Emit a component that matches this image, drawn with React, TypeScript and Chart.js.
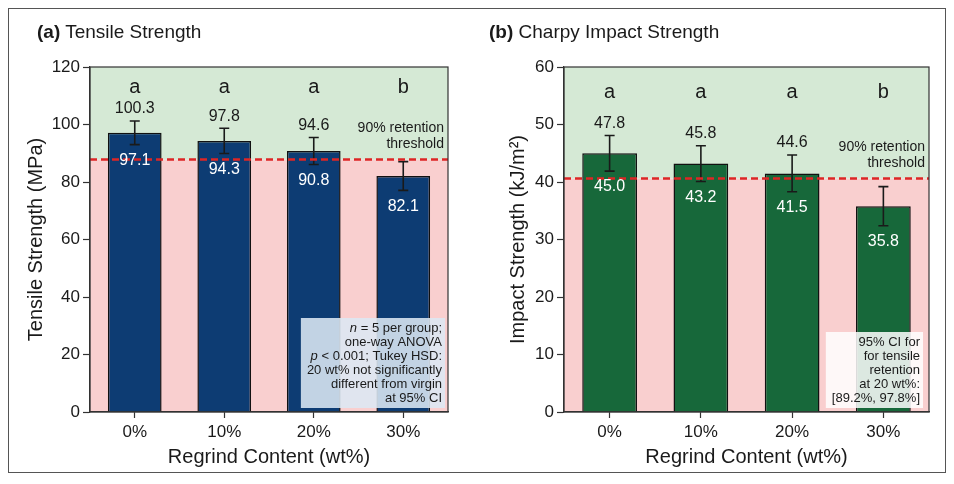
import { useEffect, useRef } from 'react'
import { Chart, registerables } from 'chart.js'

Chart.register(...registerables)

const FONT = "'Liberation Sans', Arial, Helvetica, sans-serif"
const INK = '#1a1a1a'

const CATEGORIES = ['0%', '10%', '20%', '30%']

// (a) tensile
const TENSILE_MEAN = [97.1, 94.3, 90.8, 82.1]
const TENSILE_ERR = [4.1, 4.4, 4.7, 5.0]
const TENSILE_UPPER = ['100.3', '97.8', '94.6', '']
const TENSILE_GROUPS = ['a', 'a', 'a', 'b']
const TENSILE_THRESHOLD = 87.8
const TENSILE_NOTE = [
  [{ t: 'n', i: true }, { t: ' = 5 per group;' }],
  [{ t: 'one-way ANOVA' }],
  [{ t: 'p', i: true }, { t: ' < 0.001; Tukey HSD:' }],
  [{ t: '20 wt% not significantly' }],
  [{ t: 'different from virgin' }],
  [{ t: 'at 95% CI' }],
]

// (b) impact
const IMPACT_MEAN = [45.0, 43.2, 41.5, 35.8]
const IMPACT_ERR = [3.1, 3.1, 3.2, 3.4]
const IMPACT_UPPER = ['47.8', '45.8', '44.6', '']
const IMPACT_GROUPS = ['a', 'a', 'a', 'b']
const IMPACT_THRESHOLD = 40.6
const IMPACT_NOTE = [
  [{ t: '95% CI for' }],
  [{ t: 'for tensile' }],
  [{ t: 'retention' }],
  [{ t: 'at 20 wt%:' }],
  [{ t: '[89.2%, 97.8%]' }],
]

type Seg = { t: string; i?: boolean }

type PanelCfg = {
  tag: string
  title: string
  titleLeft: number
  yTitle: string
  yTitlePad: number
  yWidth: number
  padRight: number
  max: number
  step: number
  mean: number[]
  err: number[]
  upper: string[]
  groups: string[]
  groupValue: number
  threshold: number
  barColor: string
  note: Seg[][]
  noteBg: string
  noteInset: number
}

function makeDecor(cfg: PanelCfg) {
  return {
    id: 'panelDecor',
    beforeDraw(chart: Chart) {
      const { ctx, chartArea: a, scales } = chart
      const yT = scales.y.getPixelForValue(cfg.threshold)
      ctx.save()
      ctx.fillStyle = '#d5e9d5'
      ctx.fillRect(a.left, a.top, a.width, yT - a.top)
      ctx.fillStyle = '#f9cfcf'
      ctx.fillRect(a.left, yT, a.width, a.bottom - yT)
      ctx.restore()
    },
    afterDatasetsDraw(chart: Chart) {
      const { ctx, chartArea: a, scales } = chart
      const x = scales.x
      const y = scales.y
      const yT = y.getPixelForValue(cfg.threshold)
      ctx.save()

      // error bars
      ctx.strokeStyle = INK
      ctx.lineWidth = 1.6
      cfg.mean.forEach((m, i) => {
        const cx = x.getPixelForValue(i)
        const top = y.getPixelForValue(m + cfg.err[i])
        const bot = y.getPixelForValue(m - cfg.err[i])
        ctx.beginPath()
        ctx.moveTo(cx, top)
        ctx.lineTo(cx, bot)
        ctx.moveTo(cx - 5, top)
        ctx.lineTo(cx + 5, top)
        ctx.moveTo(cx - 5, bot)
        ctx.lineTo(cx + 5, bot)
        ctx.stroke()
      })

      // threshold
      ctx.strokeStyle = '#dd2626'
      ctx.lineWidth = 2.5
      ctx.setLineDash([7, 4])
      ctx.beginPath()
      ctx.moveTo(a.left, yT)
      ctx.lineTo(a.right, yT)
      ctx.stroke()
      ctx.setLineDash([])

      // frame
      ctx.strokeStyle = '#333'
      ctx.lineWidth = 1.2
      ctx.strokeRect(a.left, a.top, a.width, a.height)

      // value labels
      ctx.textAlign = 'center'
      ctx.textBaseline = 'middle'
      ctx.font = `16px ${FONT}`
      cfg.mean.forEach((m, i) => {
        const cx = x.getPixelForValue(i)
        ctx.fillStyle = INK
        if (cfg.upper[i]) ctx.fillText(cfg.upper[i], cx, y.getPixelForValue(m + cfg.err[i]) - 12)
        ctx.fillStyle = '#ffffff'
        ctx.fillText(m.toFixed(1), cx, y.getPixelForValue(m - cfg.err[i]) + 16)
      })

      // group letters
      ctx.fillStyle = INK
      ctx.font = `20px ${FONT}`
      cfg.groups.forEach((g, i) => {
        ctx.fillText(g, x.getPixelForValue(i), y.getPixelForValue(cfg.groupValue))
      })

      // threshold caption
      ctx.textAlign = 'right'
      ctx.font = `14px ${FONT}`
      ctx.fillText('90% retention', a.right - 4, yT - 31)
      ctx.fillText('threshold', a.right - 4, yT - 15)

      // note box
      ctx.font = `13px ${FONT}`
      const fontFor = (s: Seg) => `${s.i ? 'italic ' : ''}13px ${FONT}`
      const widths = cfg.note.map((line) =>
        line.reduce((w, s) => {
          ctx.font = fontFor(s)
          return w + ctx.measureText(s.t).width
        }, 0)
      )
      const boxRight = a.right - cfg.noteInset
      const boxBottom = a.bottom - 4
      const lastY = boxBottom - 10
      const firstY = lastY - 14 * (cfg.note.length - 1)
      const boxTop = firstY - 10
      const boxLeft = boxRight - Math.max(...widths) - 9
      ctx.fillStyle = cfg.noteBg
      ctx.fillRect(boxLeft, boxTop, boxRight - boxLeft, boxBottom - boxTop)
      ctx.fillStyle = INK
      ctx.textAlign = 'left'
      cfg.note.forEach((line, li) => {
        let tx = boxRight - 3 - widths[li]
        const ty = firstY + li * 14
        line.forEach((s) => {
          ctx.font = fontFor(s)
          ctx.fillText(s.t, tx, ty)
          tx += ctx.measureText(s.t).width
        })
      })

      ctx.restore()
    },
  }
}

function Panel({ cfg }: { cfg: PanelCfg }) {
  const ref = useRef<HTMLCanvasElement>(null)

  useEffect(() => {
    if (!ref.current) return
    const chart = new Chart(ref.current, {
      type: 'bar',
      data: {
        labels: CATEGORIES,
        datasets: [
          {
            data: cfg.mean,
            backgroundColor: cfg.barColor,
            borderColor: '#111',
            borderWidth: 1.5,
            barPercentage: 0.6,
            categoryPercentage: 1,
          },
        ],
      },
      options: {
        animation: false,
        responsive: false,
        layout: { padding: { top: 58, right: cfg.padRight, bottom: 0, left: 0 } },
        plugins: {
          legend: { display: false },
          tooltip: { enabled: false },
        },
        scales: {
          x: {
            grid: {
              display: true,
              offset: false,
              drawOnChartArea: false,
              drawTicks: true,
              tickLength: 6,
              tickColor: '#333',
              tickWidth: 1.2,
            },
            border: { color: '#333', width: 1.2 },
            ticks: { color: INK, font: { family: FONT, size: 17 }, padding: 4 },
            title: {
              display: true,
              text: 'Regrind Content (wt%)',
              color: INK,
              font: { family: FONT, size: 20 },
              padding: { top: 0, bottom: 3 },
            },
            afterFit: (s: any) => {
              s.height = 60
            },
          },
          y: {
            min: 0,
            max: cfg.max,
            grid: {
              display: true,
              drawOnChartArea: false,
              drawTicks: true,
              tickLength: 7,
              tickColor: '#333',
              tickWidth: 1.2,
            },
            border: { color: '#333', width: 1.2 },
            ticks: {
              stepSize: cfg.step,
              color: INK,
              font: { family: FONT, size: 17 },
              padding: 3,
            },
            title: {
              display: true,
              text: cfg.yTitle,
              color: INK,
              font: { family: FONT, size: 20 },
              padding: { top: cfg.yTitlePad, bottom: 0 },
            },
            afterFit: (s: any) => {
              s.width = cfg.yWidth
            },
          },
        },
      },
      plugins: [makeDecor(cfg)],
    })
    return () => chart.destroy()
  }, [cfg])

  return (
    <div style={{ position: 'relative', width: 468, height: 463 }}>
      <div
        style={{
          position: 'absolute',
          left: cfg.titleLeft,
          top: 12,
          fontFamily: FONT,
          fontSize: 19,
          lineHeight: '22px',
          color: INK,
          whiteSpace: 'nowrap',
        }}
      >
        <b>{cfg.tag}</b> {cfg.title}
      </div>
      <canvas ref={ref} width={468} height={463} style={{ display: 'block' }} />
    </div>
  )
}

const TENSILE_CFG: PanelCfg = {
  tag: '(a)',
  title: 'Tensile Strength',
  titleLeft: 28,
  yTitle: 'Tensile Strength (MPa)',
  yTitlePad: 15,
  yWidth: 81,
  padRight: 29,
  max: 120,
  step: 20,
  mean: TENSILE_MEAN,
  err: TENSILE_ERR,
  upper: TENSILE_UPPER,
  groups: TENSILE_GROUPS,
  groupValue: 113,
  threshold: TENSILE_THRESHOLD,
  barColor: '#0d3c73',
  note: TENSILE_NOTE,
  noteBg: 'rgba(220,232,244,0.88)',
  noteInset: 3,
}

const IMPACT_CFG: PanelCfg = {
  tag: '(b)',
  title: 'Charpy Impact Strength',
  titleLeft: 12,
  yTitle: 'Impact Strength (kJ/m²)',
  yTitlePad: 29,
  yWidth: 87,
  padRight: 16,
  max: 60,
  step: 10,
  mean: IMPACT_MEAN,
  err: IMPACT_ERR,
  upper: IMPACT_UPPER,
  groups: IMPACT_GROUPS,
  groupValue: 55.5,
  threshold: IMPACT_THRESHOLD,
  barColor: '#17683a',
  note: IMPACT_NOTE,
  noteBg: 'rgba(255,255,255,0.85)',
  noteInset: 6,
}

export default function App() {
  return (
    <div
      style={{
        display: 'flex',
        width: 936,
        height: 463,
        border: '1px solid #555',
        background: '#fff',
      }}
    >
      <Panel cfg={TENSILE_CFG} />
      <Panel cfg={IMPACT_CFG} />
    </div>
  )
}
